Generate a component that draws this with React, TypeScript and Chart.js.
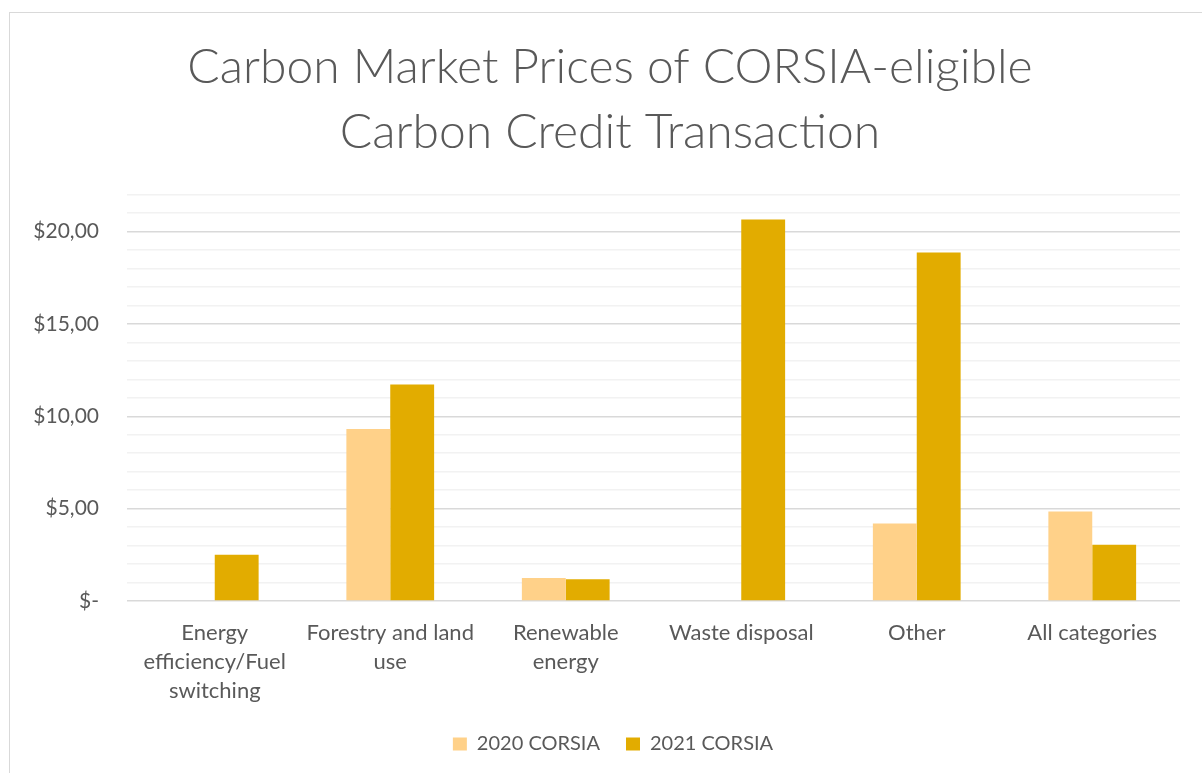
import React, { useEffect, useRef } from "react";
import { Chart, registerables } from "chart.js";

Chart.register(...registerables);

const categories: (string | string[])[] = [
  ["Energy", "efficiency/Fuel", "switching"],
  ["Forestry and land", "use"],
  ["Renewable", "energy"],
  "Waste disposal",
  "Other",
  "All categories",
];
const series2020: (number | null)[] = [null, 9.31, 1.25, null, 4.2, 4.84];
const series2021: (number | null)[] = [2.5, 11.72, 1.18, 20.65, 18.87, 3.04];
const majorTicks = [0, 5, 10, 15, 20];
const majorTickLabels = ["$-", "$5,00", "$10,00", "$15,00", "$20,00"];
const titleLines = ["Carbon Market Prices of CORSIA-eligible", "Carbon Credit Transaction"];
const seriesNames = ["2020 CORSIA", "2021 CORSIA"];

const TEXT = "#595959";
const FONT = "Lato, 'Open Sans', sans-serif";

const shiftBoxes = {
  id: "shiftBoxes",
  afterLayout(chart: any) {
    const t = chart.titleBlock;
    if (t) {
      t.left += 15;
      t.right += 15;
    }
    const l = chart.legend;
    if (l) {
      l.left += 18;
      l.right += 18;
      l.top -= 2;
      l.bottom -= 2;
    }
  },
};

export default function App() {
  const ref = useRef<HTMLCanvasElement | null>(null);
  useEffect(() => {
    if (!ref.current) return;
    const chart = new Chart(ref.current, {
      type: "bar",
      data: {
        labels: categories,
        datasets: [
          {
            label: seriesNames[0],
            data: series2020,
            backgroundColor: "#FFD189",
            categoryPercentage: 0.5,
            barPercentage: 1,
          },
          {
            label: seriesNames[1],
            data: series2021,
            backgroundColor: "#E2AC00",
            categoryPercentage: 0.5,
            barPercentage: 1,
          },
        ],
      },
      plugins: [shiftBoxes],
      options: {
        responsive: false,
        animation: false,
        layout: { padding: { left: 0, right: 22, top: 0, bottom: 47 } },
        plugins: {
          tooltip: { enabled: false },
          title: {
            display: true,
            text: titleLines,
            color: TEXT,
            font: { family: FONT, size: 48, weight: "300", lineHeight: 1.35 },
            padding: { top: 22, bottom: 30 },
          },
          legend: {
            position: "bottom",
            labels: {
              color: TEXT,
              font: { family: FONT, size: 20 },
              boxWidth: 14,
              boxHeight: 13,
              padding: 26,
            },
          },
        },
        scales: {
          x: {
            grid: { display: false, drawTicks: false },
            border: { display: false },
            ticks: {
              color: TEXT,
              font: { family: FONT, size: 22, lineHeight: 1.32 },
              maxRotation: 0,
              autoSkip: false,
              padding: 17,
            },
            afterFit: (s: any) => {
              s.height = 109;
            },
          },
          y: {
            min: 0,
            max: 22,
            grid: {
              drawTicks: false,
              color: (c: any) => (c.tick && c.tick.value % 5 === 0 ? "#D9D9D9" : "#F2F2F2"),
              lineWidth: 1.5,
            },
            border: { display: false },
            ticks: {
              stepSize: 1,
              autoSkip: false,
              color: TEXT,
              font: { family: FONT, size: 21 },
              padding: 28,
              callback: (v: any) => {
                const i = majorTicks.indexOf(Number(v));
                return i >= 0 ? majorTickLabels[i] : "";
              },
            },
            afterFit: (s: any) => {
              s.width = 117;
            },
          },
        },
      },
    });
    return () => chart.destroy();
  }, []);

  return (
    <div style={{ position: "fixed", inset: 0, overflow: "hidden", background: "#fff" }}>
      <div
        style={{
          position: "absolute",
          left: 9,
          top: 12,
          width: 1300,
          height: 900,
          border: "1px solid #D9D9D9",
          boxSizing: "border-box",
        }}
      >
        <canvas ref={ref} width={1192} height={800} style={{ display: "block" }} />
      </div>
    </div>
  );
}
